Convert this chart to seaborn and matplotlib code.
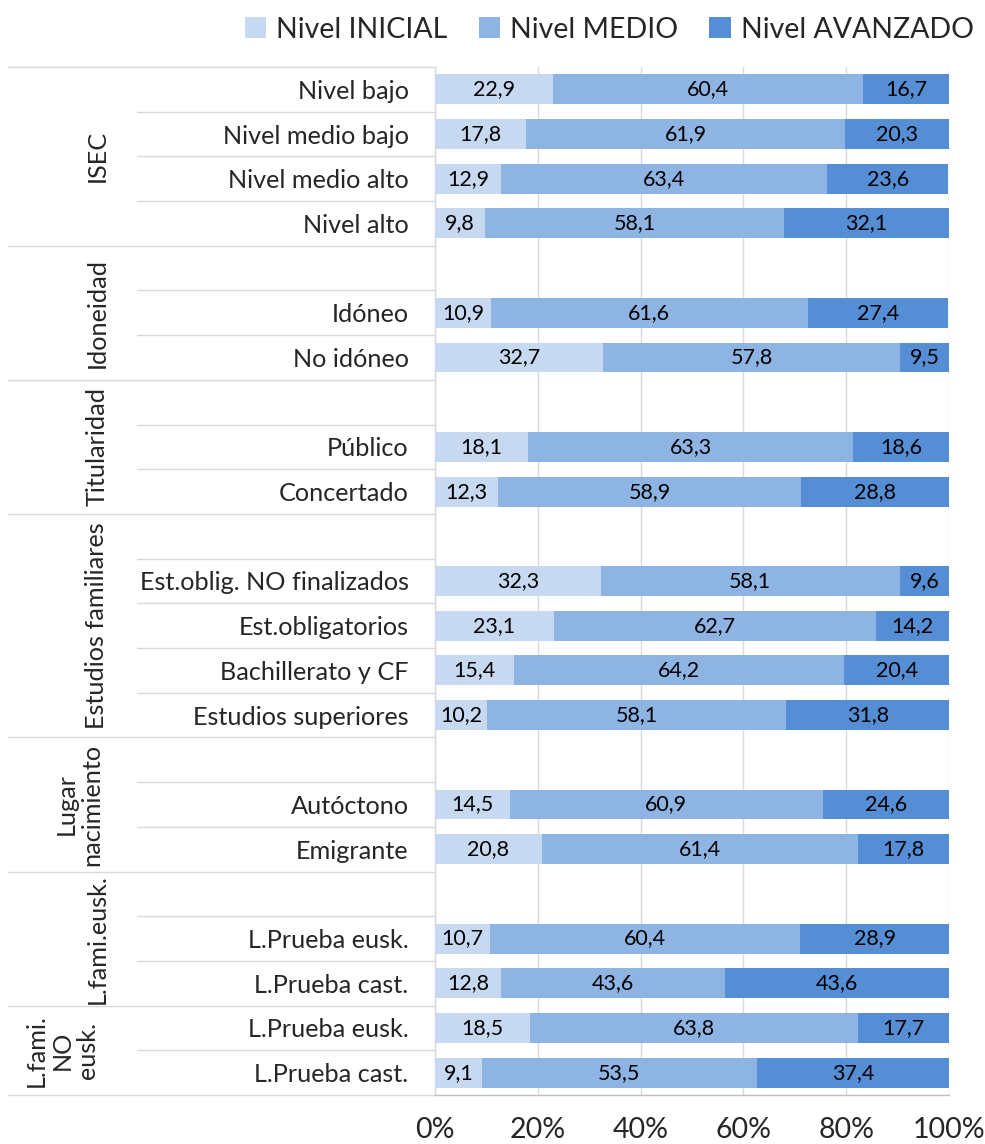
import pandas as pd
import matplotlib.pyplot as plt
import seaborn as sns

# groups, row labels ("" = empty row) and the three levels (%)
groups = ["ISEC", "Idoneidad", "Titularidad", "Estudios familiares",
          "Lugar\nnacimiento", "L.fami.eusk.", "L.fami.\nNO\neusk."]
group_rows = [
    ["Nivel bajo", "Nivel medio bajo", "Nivel medio alto", "Nivel alto"],
    ["", "Idóneo", "No idóneo"],
    ["", "Público", "Concertado"],
    ["", "Est.oblig. NO finalizados", "Est.obligatorios", "Bachillerato y CF", "Estudios superiores"],
    ["", "Autóctono", "Emigrante"],
    ["", "L.Prueba eusk.", "L.Prueba cast."],
    ["L.Prueba eusk.", "L.Prueba cast."],
]
inicial = [22.9, 17.8, 12.9, 9.8, 10.9, 32.7, 18.1, 12.3, 32.3, 23.1, 15.4, 10.2,
           14.5, 20.8, 10.7, 12.8, 18.5, 9.1]
medio = [60.4, 61.9, 63.4, 58.1, 61.6, 57.8, 63.3, 58.9, 58.1, 62.7, 64.2, 58.1,
         60.9, 61.4, 60.4, 43.6, 63.8, 53.5]
avanzado = [16.7, 20.3, 23.6, 32.1, 27.4, 9.5, 18.6, 28.8, 9.6, 14.2, 20.4, 31.8,
            24.6, 17.8, 28.9, 43.6, 17.7, 37.4]
series = ["Nivel INICIAL", "Nivel MEDIO", "Nivel AVANZADO"]
colors = ["#c6d9f1", "#8eb4e3", "#558ed5"]

# build row keys (unique) and display labels
keys, labels, key_data = [], [], []
for g, rows in zip(groups, group_rows):
    for r in rows:
        keys.append(g + "|" + r)
        labels.append(r)
        if r:
            key_data.append(g + "|" + r)

df = pd.DataFrame({"key": key_data, "ini": inicial, "med": medio, "ava": avanzado})
df["c1"] = df["ini"]
df["c2"] = df["ini"] + df["med"]
df["c3"] = df["c2"] + df["ava"]

sns.set_style("white")
plt.rcParams["font.family"] = ["Lato", "DejaVu Sans"]

fig = plt.figure(figsize=(9.85, 11.44), dpi=100)
ax = fig.add_axes([435 / 985, 1 - 1095 / 1144, 514 / 985, 1028 / 1144])

for col, c, name in zip(["c3", "c2", "c1"], colors[::-1], series[::-1]):
    sns.barplot(data=df, x=col, y="key", order=keys, orient="h", color=c,
                saturation=1, width=0.67, linewidth=0, errorbar=None,
                ax=ax, label=name, zorder=3)

# value labels in the middle of each segment
for _, row in df.iterrows():
    y = keys.index(row["key"])
    starts = [0, row["c1"], row["c2"]]
    for s, v in zip(starts, [row["ini"], row["med"], row["ava"]]):
        ax.text(s + v / 2, y, f"{v:.1f}".replace(".", ","), ha="center",
                va="center", fontsize=15.5, color="black", zorder=4)

ax.set_xlim(0, 100)
ax.set_ylim(len(keys) - 0.5, -0.5)
ax.set_xticks([0, 20, 40, 60, 80, 100])
ax.set_xticklabels(["0%", "20%", "40%", "60%", "80%", "100%"], fontsize=20.5)
ax.set_yticks(range(len(keys)))
ax.set_yticklabels(labels, fontsize=18.2)
ax.set_xlabel("")
ax.set_ylabel("")
ax.tick_params(axis="y", length=0, pad=19)
ax.tick_params(axis="x", length=6, width=1, color="#bfbfbf", direction="out", pad=10)
ax.grid(axis="x", color="#d9d9d9", linewidth=1, zorder=0)
ax.grid(axis="y", visible=False)
ax.set_axisbelow(True)
for s in ["top", "right"]:
    ax.spines[s].set_visible(False)
ax.spines["left"].set_color("#d9d9d9")
ax.spines["bottom"].set_color("#bfbfbf")
ax.spines["left"].set_linewidth(1)
ax.spines["bottom"].set_linewidth(1)

# separators and group labels on the left
trans = ax.get_yaxis_transform()
x_group = (8 - 435) / 514
x_inner = (137 - 435) / 514
label_x = [97, 97, 97, 97, 79, 97, 62]
pos = 0
for g, rows, lx in zip(groups, group_rows, label_x):
    n = len(rows)
    ax.plot([x_group, 0], [pos - 0.5, pos - 0.5], transform=trans, color="#d9d9d9",
            linewidth=1, clip_on=False)
    for i in range(1, n):
        ax.plot([x_inner, 0], [pos + i - 0.5, pos + i - 0.5], transform=trans,
                color="#d9d9d9", linewidth=1, clip_on=False)
    ax.text((lx - 435) / 514, pos + (n - 1) / 2, g, transform=trans, rotation=90,
            ha="center", va="center", multialignment="center", fontsize=18.2,
            linespacing=1.15)
    pos += n
ax.plot([x_group, 0], [pos - 0.5, pos - 0.5], transform=trans, color="#d9d9d9",
        linewidth=1, clip_on=False)

handles, hl = ax.get_legend_handles_labels()
order = [hl.index(s) for s in series]
if ax.get_legend():
    ax.get_legend().remove()
fig.legend([handles[i] for i in order], series, loc="upper right",
           bbox_to_anchor=(1.003, 0.998), ncol=3, frameon=False,
           fontsize=20.5, handlelength=0.75, handleheight=0.75, handletextpad=0.35,
           columnspacing=1.1, borderaxespad=0.1)

fig.savefig("out.png", dpi=100)
